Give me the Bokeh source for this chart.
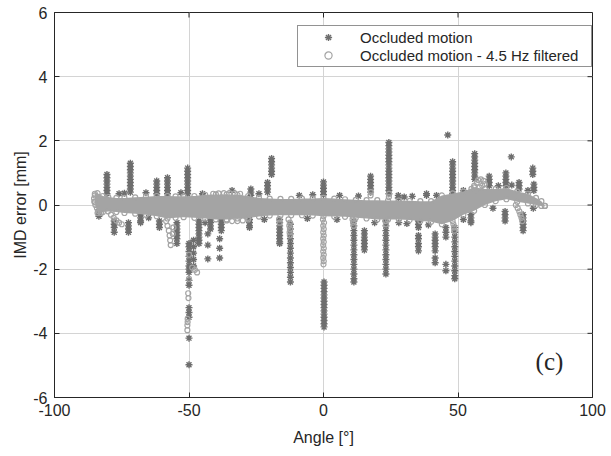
import numpy as np
from bokeh.plotting import figure
from bokeh.models import Range1d, FixedTicker, Legend, LegendItem, ColumnDataSource, Label
from bokeh.embed import file_html
from bokeh.resources import INLINE

# ---------------- data ----------------
x_ticks = [-100, -50, 0, 50, 100]
y_ticks = [-6, -4, -2, 0, 2, 4, 6]

# Occluded motion (dark asterisks): spikes as columns at an angle
occ_spike_x = [-83.5, -80.5, -77.8, -71.8, -72.5, -68, -74, -62, -61, -58,
               -54.5, -50.5, -50, -48.3, -46.3, -45, -42, -43, -38, -38.6,
               -27, -27.5, -20.8, -19.3, -16.3, -12.3, 0, 0.2, 11.3, 15.2,
               17.5, 24.3, 23.2, 27.8, 35.3, 38.3, 41.5, 45.5, 46.2, 48,
               48.8, 56.2, 54.8, 61.6, 67.8, 69.8, 67.5, 72.7, 74.2, 77.8, 78.2]
occ_spike_y = [
    [-0.15, -0.25, -0.35],
    [0.95, 0.85, 0.75, 0.65, 0.55, 0.45, 0.35],
    [-0.5, -0.6, -0.7, -0.85],
    [1.3, 1.2, 1.1, 1.0, 0.9, 0.8, 0.7, 0.6, 0.5, 0.4],
    [-0.55, -0.65, -0.75, -0.85],
    [-0.3, -0.4, -0.5, -0.55],
    [0.37],
    [0.75, 0.65, 0.55, 0.45, 0.35],
    [-0.5, -0.6, -0.7],
    [0.85, 0.75, 0.65, 0.55, 0.45, 0.35],
    [-0.55, -0.65, -0.75, -0.85, -0.95, -1.05, -1.2],
    [1.15, 1.05, 0.95, 0.85, 0.75, 0.65, 0.55, 0.45, 0.35],
    [-1.2, -1.3, -1.45, -1.6, -1.75, -1.9, -2.0, -2.1, -2.35, -2.5, -3.2, -3.35, -3.5, -4.15, -4.98],
    [-1.1, -1.3, -1.5, -1.7, -1.9],
    [-0.5, -0.6, -0.7, -0.8, -0.9, -1.0, -1.1, -1.2],
    [0.35, 0.25],
    [-0.45, -0.55, -0.65, -0.75],
    [-0.9, -1.25, -1.68],
    [-0.4, -0.5, -0.6, -0.7, -0.8],
    [-1.05, -1.35, -1.65],
    [0.5, 0.4, 0.3],
    [-0.45, -0.55, -0.65, -0.7],
    [0.7, 0.6, 0.5, 0.4],
    [1.45, 1.35, 1.25, 1.15, 1.05, 0.95],
    [-0.45, -0.55, -0.65, -0.75, -0.85, -0.95, -1.05, -1.15, -1.2],
    [-0.6, -0.75, -0.9, -1.05, -1.2, -1.35, -1.5, -1.65, -1.8, -1.95, -2.1, -2.25, -2.4],
    [0.72, 0.62, 0.52, 0.42, 0.32],
    [-2.4, -2.5, -2.6, -2.7, -2.8, -2.9, -3.0, -3.1, -3.2, -3.3, -3.4, -3.5, -3.6, -3.7, -3.8],
    [-0.5, -0.65, -0.8, -0.95, -1.1, -1.25, -1.4, -1.55, -1.7, -1.85, -2.0, -2.15, -2.3, -2.4],
    [-0.8, -0.9, -1.0, -1.1, -1.2, -1.3, -1.4],
    [0.9, 0.8, 0.7, 0.6, 0.5, 0.4],
    [1.95, 1.85, 1.75, 1.65, 1.55, 1.45, 1.35, 1.25, 1.15, 1.05, 0.95, 0.85, 0.75, 0.65, 0.55, 0.45, 0.35],
    [-0.5, -0.65, -0.8, -0.95, -1.1, -1.25, -1.4, -1.55, -1.7, -1.85, -2.0, -2.15],
    [0.3, 0.22],
    [-0.5, -0.6, -0.7, -0.95, -1.05, -1.2, -1.3, -1.43],
    [0.3, 0.35],
    [-0.9, -1.0, -1.1, -1.2, -1.3, -1.43, -1.65, -1.8],
    [-0.7, -0.85, -1.0, -1.85, -2.05],
    [2.18],
    [1.35, 1.25, 1.15, 1.05, 0.95, 0.85, 0.75, 0.65, 0.55, 0.45, 0.35],
    [-0.7, -0.85, -1.0, -1.15, -1.3, -1.45, -1.6, -1.75, -1.9, -2.05, -2.2, -2.3],
    [1.6, 1.5, 1.4, 1.3, 1.2, 1.1, 1.0, 0.9, 0.8],
    [-0.3, -0.4, -0.5, -0.55],
    [0.9, 0.8, 0.7, 0.6],
    [1.0, 0.9, 0.8, 0.7, 0.6],
    [1.5],
    [-0.2, -0.3, -0.4, -0.5],
    [0.7, 0.6, 0.5],
    [-0.3, -0.4, -0.5, -0.6, -0.7, -0.8],
    [1.15, 1.05, 0.95],
    [0.65, 0.55, 0.45],
]
# Occluded motion: scattered stars at the band edges
occ_edge_x = [-76, -66, -53, -34, -24, -9, -4, 6, 13, 30, 33, 42, 52, 65, 70, 76,
              -65, -44, -22, -6, 5, 19, 28, 31, 39, 52, 63, 78]
occ_edge_y = [0.35, 0.38, 0.38, 0.45, 0.35, 0.3, 0.32, 0.3, 0.28, 0.25, 0.27, 0.3, 0.45, 0.6, 0.62, 0.45,
              -0.4, -0.55, -0.45, -0.42, -0.45, -0.55, -0.55, -0.58, -0.62, -0.45, -0.1, -0.1]

# Filtered motion (light circles): dense band envelope
band_x = [-85, -84, -82, -80, -77, -74, -70, -66, -62, -58, -55, -52, -48, -44, -40, -36,
          -32, -28, -24, -20, -16, -12, -8, -4, 0, 4, 8, 12, 16, 20, 24, 28, 32, 36, 40,
          44, 48, 52, 56, 60, 64, 68, 72, 76, 79, 81, 82.3]
band_hi = [0.35, 0.37, 0.28, 0.25, 0.22, 0.22, 0.24, 0.26, 0.28, 0.28, 0.27, 0.27, 0.28, 0.32,
           0.33, 0.33, 0.32, 0.28, 0.22, 0.2, 0.19, 0.19, 0.2, 0.2, 0.22, 0.2, 0.18, 0.16, 0.15,
           0.15, 0.14, 0.14, 0.13, 0.12, 0.12, 0.3, 0.36, 0.42, 0.55, 0.5, 0.5, 0.53, 0.42, 0.35,
           0.22, 0.12, -0.03]
band_lo = [0.1, -0.25, -0.22, -0.2, -0.22, -0.25, -0.27, -0.3, -0.35, -0.42, -0.4, -0.38, -0.4,
           -0.42, -0.45, -0.45, -0.42, -0.4, -0.36, -0.33, -0.32, -0.32, -0.32, -0.33, -0.35,
           -0.36, -0.37, -0.4, -0.42, -0.45, -0.45, -0.45, -0.47, -0.5, -0.52, -0.6, -0.5, -0.3,
           -0.18, 0.0, 0.12, 0.18, 0.1, 0.05, 0.0, -0.03, -0.03]
# Filtered motion: points outside the band
filt_x = [-79, -78, -77, -76, -75,
          -58.5, -58, -57.5, -57.2, -57, -56.8, -56, -55.8,
          -50.3, -50.2, -50.5, -50.5, -50.6, -50.6, -50, -50, -48.8, -47.8, -47,
          -41, -39, -37, -35, -33, -31, -36, -34, -32, -30, -28,
          -0.2, 0.2, -0.1, 0.1, -0.1, 0.1, -0.1, 0.1, -0.1, 0.1, -0.1, 0.1, -0.1, 0.1, 0,
          -13, -12.5, -12.7, -12.4, -12.6, -12.5, -16.5, -16.3,
          10.8, 11, 11.2, 23, 23.2, 24.3, 24.4, 17.5, 17.6,
          48.3, 48.5, 48.6,
          55, 56, 57, 57.5, 58.5, 59.5, 60, 56.5, 58, 59,
          71.5, 72.2, 72.8, 73.2, 73.6, 73.9,
          -85, -85.3, -85.2, -84.8, -84.2, -83.5, -82.7]
filt_y = [-0.3, -0.4, -0.48, -0.55, -0.6,
          -0.5, -0.65, -0.8, -0.95, -1.1, -1.25, -0.9, -0.7,
          -2.75, -2.9, -3.55, -3.65, -3.75, -3.9, -1.55, -2.3, -1.95, -2.02, -2.1,
          0.35, 0.36, 0.37, 0.37, 0.36, 0.35, -0.48, -0.5, -0.5, -0.48, -0.45,
          -0.45, -0.55, -0.65, -0.75, -0.85, -0.95, -1.05, -1.15, -1.25, -1.35, -1.45, -1.55, -1.65, -1.75, -1.85,
          -0.45, -0.55, -0.65, -0.75, -0.85, -0.95, -0.45, -0.55,
          -0.45, -0.55, -0.65, -0.5, -0.6, 0.25, 0.35, 0.3, 0.4,
          -0.6, -0.7, -0.8,
          0.5, 0.6, 0.7, 0.78, 0.8, 0.75, 0.65, 0.45, 0.55, 0.6,
          0.0, -0.1, -0.2, -0.3, -0.4, -0.5,
          0.3, 0.2, 0.1, 0.0, -0.1, -0.2, -0.25]

# ---------------- styling ----------------
DARK = "#6e6e6e"
LIGHT = "#a4a4a4"
TXT = "#262626"
FONT = "Liberation Sans"
FRAME_W, FRAME_H = 538, 385
TICK_PX = 5

occ_x_all = []
occ_y_all = []
for sx, ys in zip(occ_spike_x, occ_spike_y):
    occ_x_all += [sx] * len(ys)
    occ_y_all += ys
occ_x_all += occ_edge_x
occ_y_all += occ_edge_y

filt_x_all = list(band_x) + list(band_x) + filt_x
filt_y_all = list(band_hi) + list(band_lo) + filt_y

x0, x1 = x_ticks[0], x_ticks[-1]
y0, y1 = y_ticks[0], y_ticks[-1]

p = figure(frame_width=FRAME_W, frame_height=FRAME_H, output_backend="svg", toolbar_location=None,
           x_range=Range1d(x0, x1), y_range=Range1d(y0, y1),
           min_border_left=54, min_border_right=17, min_border_top=12, min_border_bottom=40,
           background_fill_color="white", border_fill_color="white")
p.outline_line_color = TXT
p.outline_line_width = 1

occ_src = ColumnDataSource(dict(x=occ_x_all, y=occ_y_all))
filt_src = ColumnDataSource(dict(x=filt_x_all, y=filt_y_all))

r_occ = p.scatter("x", "y", source=occ_src, marker="asterisk", size=7,
                  line_color=DARK, line_width=1.4)
p.varea(x=band_x, y1=band_lo, y2=band_hi, fill_color=LIGHT)
r_filt = p.scatter("x", "y", source=filt_src, marker="circle", size=5,
                   fill_color=None, line_color=LIGHT, line_width=1.2)

# grid
p.xgrid.ticker = FixedTicker(ticks=x_ticks)
p.ygrid.ticker = FixedTicker(ticks=y_ticks)
for g in (p.xgrid, p.ygrid):
    g.grid_line_color = "#d4d4d4"
    g.grid_line_width = 1

# main axes (hyphen-minus labels as in the reference)
xa = p.xaxis[0]
ya = p.yaxis[0]
xa.ticker = FixedTicker(ticks=x_ticks)
ya.ticker = FixedTicker(ticks=y_ticks)
xa.major_label_overrides = {t: str(t) for t in x_ticks}
ya.major_label_overrides = {t: str(t) for t in y_ticks}
xa.axis_label = "Angle [°]"
ya.axis_label = "IMD error [mm]"
for ax in (xa, ya):
    ax.major_tick_in = TICK_PX
    ax.major_tick_out = 0
    ax.minor_tick_line_color = None
    ax.axis_line_color = TXT
    ax.major_tick_line_color = TXT
    ax.major_label_text_font = FONT
    ax.major_label_text_font_size = "16px"
    ax.major_label_text_color = TXT
    ax.axis_label_text_font = FONT
    ax.axis_label_text_font_size = "16px"
    ax.axis_label_text_font_style = "normal"
    ax.axis_label_text_color = TXT
xa.major_label_standoff = 6
xa.axis_label_standoff = 10
ya.major_label_standoff = 7
ya.axis_label_standoff = 1

# mirrored ticks on top and right edges (box on)
ty = (y1 - y0) * TICK_PX / FRAME_H
tx = (x1 - x0) * TICK_PX / FRAME_W
p.segment(x0=x_ticks, y0=[y1] * len(x_ticks), x1=x_ticks, y1=[y1 - ty] * len(x_ticks),
          line_color=TXT, line_width=1)
p.segment(x0=[x1] * len(y_ticks), y0=y_ticks, x1=[x1 - tx] * len(y_ticks), y1=y_ticks,
          line_color=TXT, line_width=1)

legend = Legend(items=[LegendItem(label="Occluded motion", renderers=[r_occ]),
                       LegendItem(label="Occluded motion - 4.5 Hz filtered", renderers=[r_filt])],
                location=(243, 330))
legend.label_text_font = FONT
legend.label_text_font_size = "15px"
legend.label_text_color = TXT
legend.border_line_color = TXT
legend.border_line_width = 1
legend.background_fill_color = "white"
legend.background_fill_alpha = 1
legend.padding = 2
legend.spacing = 0
legend.glyph_width = 56
legend.glyph_height = 18
legend.label_height = 18
legend.label_standoff = 4
legend.label_width = 229
legend.margin = 0
p.add_layout(legend, "center")

p.add_layout(Label(x=84, y=-4.88, text="(c)", text_font="Liberation Serif", text_font_size="25px",
                   text_align="center", text_baseline="middle", text_color=TXT))

open("out.html", "w").write(file_html(p, INLINE))
